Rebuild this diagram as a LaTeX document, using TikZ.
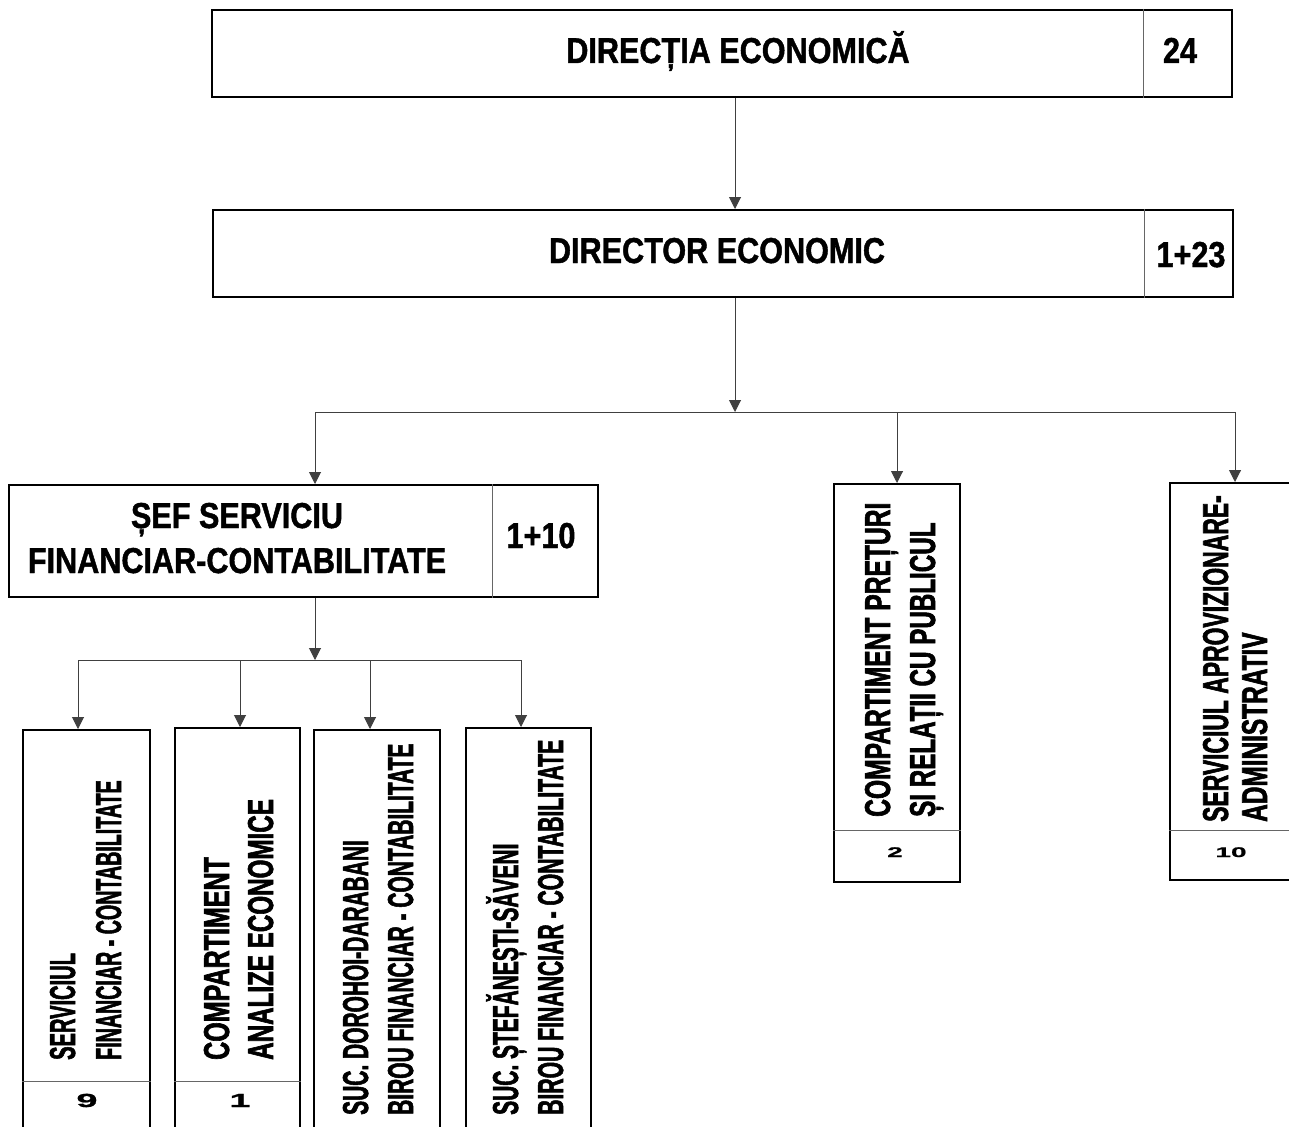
\documentclass[tikz,border=0pt]{standalone}
\usepackage{fontspec}
\usepackage{graphicx}
\setmainfont{Liberation Sans}
\newfontfamily\hfont{Liberation Sans}[FakeStretch=0.85, FakeBold=1.2]
\newfontfamily\vfont{Liberation Sans}[FakeStretch=0.6, FakeBold=1.5]
\newfontfamily\nfont{Liberation Sans}[FakeStretch=2.0, FakeBold=1]
\usetikzlibrary{arrows.meta}
\newcommand\hsq[2]{\scalebox{#1}[1]{#2}}
\begin{document}
\begin{tikzpicture}[x=1pt,y=-1pt,
  box/.style={draw=black, line width=2pt, inner sep=0pt},
  divline/.style={draw=black!60, line width=1pt},
  conn/.style={draw=black!75, line width=1pt},
  arr/.style={conn, -{Triangle[length=12pt,width=12pt]}},
  htext/.style={font=\hfont\bfseries\fontsize{36}{42}\selectfont, inner sep=0pt, anchor=base},
  vtext/.style={font=\vfont\bfseries\fontsize{36}{42}\selectfont, inner sep=0pt, rotate=90, anchor=base west},
  ntext/.style={font=\nfont\bfseries\fontsize{19}{21}\selectfont, inner sep=0pt, anchor=base},
  ntextsm/.style={font=\nfont\bfseries\fontsize{14}{16}\selectfont, inner sep=0pt, anchor=base}]
\useasboundingbox (0,0) rectangle (1289,1126);
\fill[white] (0,0) rectangle (1289,1126);
\clip (0,0) rectangle (1289,1126);

% boxes
\node[box, minimum width=1020pt, minimum height=87pt] (dir) at (722,53.5) {};
\node[box, minimum width=1020pt, minimum height=87pt] (deco) at (723,253.5) {};
\node[box, minimum width=589pt, minimum height=112pt] (sef) at (303.5,541) {};
\node[box, minimum width=126pt, minimum height=398pt] (cpr) at (897,683) {};
\node[box, minimum width=130pt, minimum height=397pt] (sap) at (1235,681.5) {};
\node[box, minimum width=127pt, minimum height=410pt] (sfc) at (86.5,935) {};
\node[box, minimum width=125pt, minimum height=412pt] (can) at (237.5,934) {};
\node[box, minimum width=126pt, minimum height=410pt] (sdd) at (377,935) {};
\node[box, minimum width=125pt, minimum height=412pt] (sss) at (528.5,934) {};

% dividers
\coordinate (d1) at (1143,0);
\coordinate (d2) at (1144,0);
\coordinate (d3) at (492,0);
\draw[divline] (dir.north -| d1) -- (dir.south -| d1);
\draw[divline] (deco.north -| d2) -- (deco.south -| d2);
\draw[divline] (sef.north -| d3) -- (sef.south -| d3);
\coordinate (h1) at (0,830);
\coordinate (h2) at (0,1081);
\draw[divline] (cpr.west |- h1) -- (cpr.east |- h1);
\draw[divline] (sap.west |- h1) -- (sap.east |- h1);
\draw[divline] (sfc.west |- h2) -- (sfc.east |- h2);
\draw[divline] (can.west |- h2) -- (can.east |- h2);

% connectors
\coordinate (m1) at (735,0);
\coordinate (bus) at (735,412);
\coordinate (m2) at (315,0);
\coordinate (bus2) at (315,660);
\coordinate (k1) at (78,0);
\coordinate (k2) at (240,0);
\coordinate (k3) at (370,0);
\coordinate (k4) at (521,0);
\draw[arr] (dir.south -| m1) -- (deco.north -| m1);
\draw[arr] (deco.south -| m1) -- (bus);
\draw[conn] (bus -| m2) -- (bus -| sap.north);
\draw[arr] (bus -| m2) -- (sef.north -| m2);
\draw[arr] (bus -| cpr.north) -- (cpr.north);
\draw[arr] (bus -| sap.north) -- (sap.north);
\draw[arr] (sef.south -| m2) -- (bus2);
\draw[conn] (bus2 -| k1) -- (bus2 -| k4);
\draw[arr] (bus2 -| k1) -- (sfc.north -| k1);
\draw[arr] (bus2 -| k2) -- (can.north -| k2);
\draw[arr] (bus2 -| k3) -- (sdd.north -| k3);
\draw[arr] (bus2 -| k4) -- (sss.north -| k4);

% texts
\node[htext] (t1) at (738,63) {DIRECȚIA ECONOMICĂ};
\node[htext] (n1) at (1180,63) {24};
\node[htext] (t2) at (717,263) {DIRECTOR ECONOMIC};
\node[htext] (n2) at (1191,267) {1+23};
\node[htext] (t3a) at (237,528) {ȘEF SERVICIU};
\node[htext] (t3b) at (237,573) {FINANCIAR-CONTABILITATE};
\node[htext] (n3) at (541,548) {1+10};

\node[vtext] (v1a) at (75,1060) {\hsq{0.93}{SERVICIUL}};
\node[vtext] (v1b) at (121,1060) {\hsq{0.91}{FINANCIAR - CONTABILITATE}};
\node[vtext] (v2a) at (229,1060) {\hsq{1.16}{COMPARTIMENT}};
\node[vtext] (v2b) at (273,1060) {\hsq{1.12}{ANALIZE ECONOMICE}};
\node[vtext] (v3a) at (368,1115) {\hsq{0.97}{SUC. DOROHOI-DARABANI}};
\node[vtext] (v3b) at (413,1115) {\hsq{0.97}{BIROU FINANCIAR - CONTABILITATE}};
\node[vtext] (v4a) at (518,1115) {\hsq{0.97}{SUC. ȘTEFĂNEȘTI-SĂVENI}};
\node[vtext] (v4b) at (563,1115) {\hsq{0.98}{BIROU FINANCIAR - CONTABILITATE}};
\node[vtext] (v5a) at (890,817) {\hsq{1.14}{COMPARTIMENT PREȚURI}};
\node[vtext] (v5b) at (935,817) {\hsq{1.12}{ȘI RELAȚII CU PUBLICUL}};
\node[vtext] (v6a) at (1228,822) {\hsq{1.06}{SERVICIUL APROVIZIONARE-}};
\node[vtext] (v6b) at (1267,822) {\hsq{1.13}{ADMINISTRATIV}};

\node[ntext] (s1) at (87,1107) {9};
\node[ntext] (s2) at (240,1107) {1};
\node[ntextsm] (s3) at (895,857) {2};
\node[ntextsm] (s4) at (1231,857) {10};
\end{tikzpicture}
\end{document}
